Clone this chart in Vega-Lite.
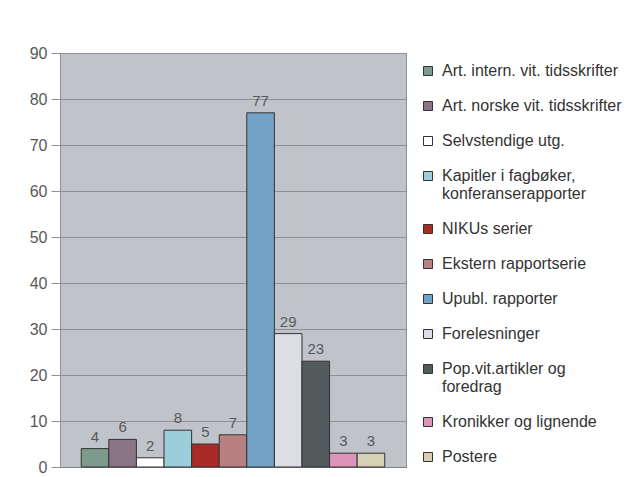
{
  "$schema": "https://vega.github.io/schema/vega-lite/v6.json",
  "autosize": "none",
  "width": 346,
  "height": 414,
  "padding": {"left": 60, "top": 53, "right": 229, "bottom": 10},
  "background": "white",
  "data": {
    "values": [
      {"kategori": "Art. intern. vit. tidsskrifter", "antall": 4},
      {"kategori": "Art. norske vit. tidsskrifter", "antall": 6},
      {"kategori": "Selvstendige utg.", "antall": 2},
      {"kategori": "Kapitler i fagbøker, konferanserapporter", "antall": 8},
      {"kategori": "NIKUs serier", "antall": 5},
      {"kategori": "Ekstern rapportserie", "antall": 7},
      {"kategori": "Upubl. rapporter", "antall": 77},
      {"kategori": "Forelesninger", "antall": 29},
      {"kategori": "Pop.vit.artikler og foredrag", "antall": 23},
      {"kategori": "Kronikker og lignende", "antall": 3},
      {"kategori": "Postere", "antall": 3}
    ]
  },
  "encoding": {
    "x": {
      "field": "kategori",
      "type": "nominal",
      "sort": null,
      "scale": {"paddingInner": 0, "paddingOuter": 0.77},
      "axis": {"labels": false, "ticks": false, "title": null, "grid": false, "domainColor": "#7d8186", "domainWidth": 1}
    },
    "y": {
      "field": "antall",
      "type": "quantitative",
      "scale": {"domain": [0, 90], "nice": false},
      "axis": {
        "values": [0, 10, 20, 30, 40, 50, 60, 70, 80, 90],
        "title": null,
        "domainColor": "#8d9196",
        "tickColor": "#8d9196",
        "tickSize": 9,
        "labelPadding": 4,
        "labelFontSize": 16,
        "labelFont": "Liberation Sans",
        "labelColor": "#595959",
        "gridColor": "#8d9196",
        "gridOpacity": 1
      }
    }
  },
  "layer": [
    {
      "mark": {"type": "bar", "stroke": "#333333", "strokeWidth": 1},
      "encoding": {
        "color": {
          "field": "kategori",
          "type": "nominal",
          "sort": null,
          "scale": {
            "domain": [
              "Art. intern. vit. tidsskrifter",
              "Art. norske vit. tidsskrifter",
              "Selvstendige utg.",
              "Kapitler i fagbøker, konferanserapporter",
              "NIKUs serier",
              "Ekstern rapportserie",
              "Upubl. rapporter",
              "Forelesninger",
              "Pop.vit.artikler og foredrag",
              "Kronikker og lignende",
              "Postere"
            ],
            "range": ["#7c9b8c", "#8a7586", "#ffffff", "#9ccdda", "#a82b27", "#b88081", "#73a2c6", "#dcdee3", "#525a5c", "#dc94ba", "#d8d0b5"]
          },
          "legend": {
            "title": null,
            "orient": "right",
            "offset": 4,
            "padding": 10,
            "symbolType": "square",
            "symbolSize": 81,
            "symbolStrokeColor": "#333333",
            "symbolStrokeWidth": 1,
            "labelFont": "Liberation Sans",
            "labelFontSize": 16,
            "labelColor": "#333333",
            "labelOffset": 6,
            "labelLimit": 220,
            "rowPadding": 19,
            "labelExpr": "datum.label == 'Kapitler i fagbøker, konferanserapporter' ? ['Kapitler i fagbøker,', 'konferanserapporter'] : datum.label == 'Pop.vit.artikler og foredrag' ? ['Pop.vit.artikler og', 'foredrag'] : datum.label"
          }
        }
      }
    },
    {
      "mark": {"type": "text", "dy": -7, "baseline": "alphabetic", "fontSize": 15, "font": "Liberation Sans", "color": "#595959"},
      "encoding": {"text": {"field": "antall", "type": "quantitative"}}
    }
  ],
  "config": {
    "view": {"fill": "#c0c3c9", "stroke": "#8d9196", "strokeWidth": 1}
  }
}
